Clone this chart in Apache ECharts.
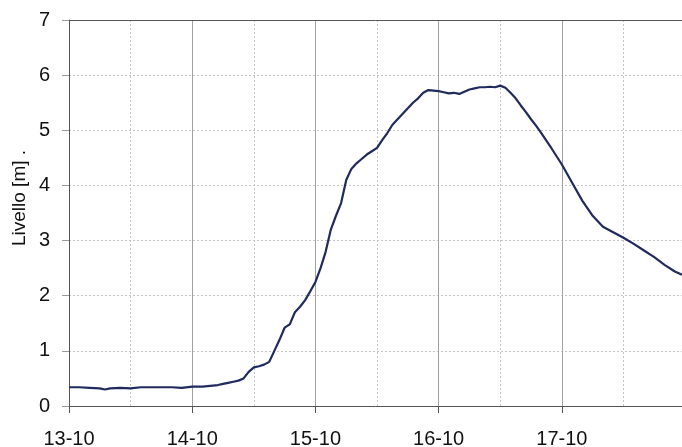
<!DOCTYPE html>
<html>
<head>
<meta charset="utf-8">
<script src="https://cdn.jsdelivr.net/npm/echarts@6/dist/echarts.min.js"></script>
<style>
  html, body { margin: 0; padding: 0; background: #fff; overflow: hidden; }
  #chart { width: 682px; height: 447px; }
</style>
</head>
<body>
<div id="chart"></div>
<script>
// ore trascorse dalle 00:00 del 13-10
const hours = [0, 2, 4, 6, 7, 8, 10, 12, 14, 16, 18, 20, 22, 24, 26, 28, 29, 30, 31, 32,
    33, 34, 35, 36, 37, 38, 39, 40, 41, 42, 43, 44, 45, 46, 47, 48, 49, 50, 51, 52,
    53, 54, 55, 56, 57, 58, 59, 60, 61, 62, 63, 64, 65, 66, 67, 68, 69, 70, 71, 72,
    73, 74, 75, 76, 77, 78, 79, 80, 81, 82, 83, 84, 85, 86, 87, 88, 89, 90, 91, 92,
    94, 96, 98, 100, 102, 104, 106, 108, 110, 112, 114, 116, 118, 119.4];
// livello idrometrico [m]
const levels = [0.34, 0.34, 0.33, 0.32, 0.30, 0.32, 0.33, 0.32, 0.34, 0.34, 0.34, 0.34, 0.33, 0.35, 0.35, 0.37, 0.38, 0.40, 0.42, 0.44,
    0.46, 0.50, 0.62, 0.70, 0.72, 0.75, 0.80, 1.00, 1.20, 1.42, 1.48, 1.70, 1.80, 1.92, 2.08, 2.25, 2.50, 2.80, 3.20, 3.45,
    3.68, 4.10, 4.30, 4.40, 4.48, 4.56, 4.62, 4.68, 4.82, 4.95, 5.10, 5.20, 5.30, 5.40, 5.50, 5.58, 5.68, 5.73, 5.72, 5.71,
    5.69, 5.67, 5.68, 5.66, 5.70, 5.74, 5.76, 5.78, 5.78, 5.79, 5.78, 5.81, 5.77, 5.68, 5.58, 5.45, 5.33, 5.20, 5.08, 4.95,
    4.67, 4.38, 4.05, 3.72, 3.45, 3.25, 3.15, 3.05, 2.94, 2.82, 2.70, 2.56, 2.44, 2.38];
const dayLabels = ['13-10', '14-10', '15-10', '16-10', '17-10', '18-10'];
const yTitle = 'Livello [m] .';

const chart = echarts.init(document.getElementById('chart'));
const font = 'Liberation Sans, Arial, sans-serif';

chart.setOption({
    animation: false,
    grid: { left: 69, right: 0, top: 20, bottom: 41, outerBoundsMode: 'none', containLabel: false },
    // titolo asse y, un po' sopra il centro come nell'originale
    graphic: [{
        type: 'text',
        x: 20,
        y: 198,
        rotation: Math.PI / 2,
        style: {
            text: yTitle,
            fill: '#111',
            font: '19px ' + font,
            textAlign: 'center',
            textVerticalAlign: 'middle'
        }
    }],
    xAxis: [{
        type: 'value',
        min: 0,
        max: 119.4,
        interval: 24,
        axisLine: { lineStyle: { color: '#555', width: 1 } },
        axisTick: { show: true, length: 7, lineStyle: { color: '#555' } },
        axisLabel: {
            color: '#111', fontFamily: font, fontSize: 20, margin: 23,
            showMaxLabel: false,
            formatter: v => dayLabels[Math.round(v / 24)]
        },
        splitLine: { show: true, lineStyle: { color: '#a0a0a0', width: 1 } },
        minorTick: { show: false, splitNumber: 2 },
        minorSplitLine: { show: true, lineStyle: { color: '#c4c4c4', type: [2, 2], width: 1 } }
    }, {
        type: 'value',
        position: 'top',
        min: 0,
        max: 119.4,
        axisLine: { show: true, lineStyle: { color: '#555', width: 1 } },
        axisTick: { show: false },
        axisLabel: { show: false },
        splitLine: { show: false }
    }],
    yAxis: {
        type: 'value',
        min: 0,
        max: 7,
        interval: 1,
        axisLine: { show: true, lineStyle: { color: '#555', width: 1 } },
        axisTick: { show: true, length: 7, lineStyle: { color: '#999' } },
        axisLabel: { color: '#111', fontFamily: font, fontSize: 20, margin: 19 },
        splitLine: { show: true, lineStyle: { color: '#c4c4c4', type: [2, 2], width: 1 } }
    },
    series: [{
        type: 'line',
        xAxisIndex: 0,
        symbol: 'none',
        smooth: false,
        lineStyle: { color: '#1f2a5e', width: 2.2 },
        data: hours.map((h, i) => [h, levels[i]])
    }]
});
</script>
</body>
</html>
